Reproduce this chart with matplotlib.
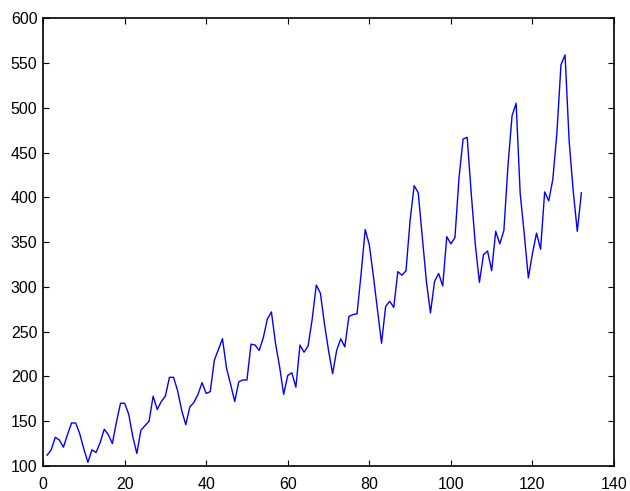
import numpy as np
import matplotlib.pyplot as plt

plt.rcParams['font.family'] = ['Liberation Sans', 'DejaVu Sans']

# monthly airline passengers (thousands), 1949-1959
passengers = [
    112, 118, 132, 129, 121, 135, 148, 148, 136, 119, 104, 118,
    115, 126, 141, 135, 125, 149, 170, 170, 158, 133, 114, 140,
    145, 150, 178, 163, 172, 178, 199, 199, 184, 162, 146, 166,
    171, 180, 193, 181, 183, 218, 230, 242, 209, 191, 172, 194,
    196, 196, 236, 235, 229, 243, 264, 272, 237, 211, 180, 201,
    204, 188, 235, 227, 234, 264, 302, 293, 259, 229, 203, 229,
    242, 233, 267, 269, 270, 315, 364, 347, 312, 274, 237, 278,
    284, 277, 317, 313, 318, 374, 413, 405, 355, 306, 271, 306,
    315, 301, 356, 348, 355, 422, 465, 467, 404, 347, 305, 336,
    340, 318, 362, 348, 363, 435, 491, 505, 404, 359, 310, 337,
    360, 342, 406, 396, 420, 472, 548, 559, 463, 407, 362, 405,
]
months = np.arange(1, len(passengers) + 1)

fig = plt.figure(figsize=(6.3, 4.91), dpi=100)
ax = fig.add_axes([0.0683, 0.051, 0.9063, 0.912])
ax.plot(months, passengers, color='#0000ff', linewidth=1.0)

ax.set_xlim(0, 140)
ax.set_ylim(100, 600)
ax.set_xticks(np.arange(0, 141, 20))
ax.set_yticks(np.arange(100, 601, 50))
ax.tick_params(direction='in', top=True, right=True, length=4,
               width=0.8, labelsize=11.5)
ax.tick_params(axis='x', pad=8)
ax.tick_params(axis='y', pad=4)
for s in ax.spines.values():
    s.set_linewidth(1.2)

plt.savefig('out.png', dpi=100)
